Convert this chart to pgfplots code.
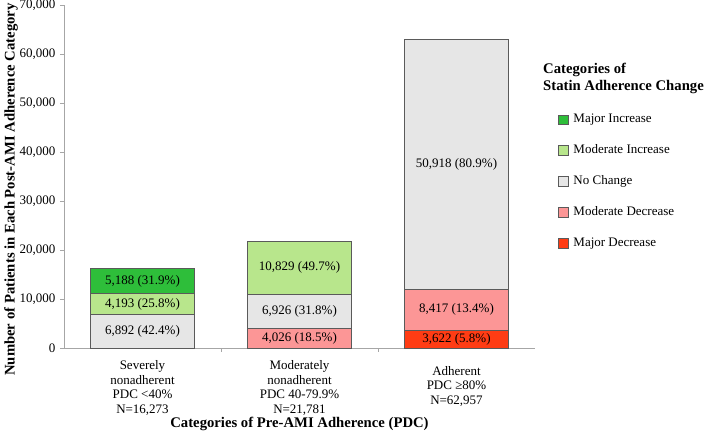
\documentclass[border=0pt]{standalone}
\usepackage{pgfplots}
\pgfplotsset{compat=1.18}
\usepackage{fontspec}
\setmainfont{Liberation Serif}
\definecolor{majinc}{RGB}{46,190,58}
\definecolor{modinc}{RGB}{184,230,140}
\definecolor{nochg}{RGB}{230,230,230}
\definecolor{moddec}{RGB}{252,150,150}
\definecolor{majdec}{RGB}{255,60,20}
\definecolor{edge}{RGB}{90,90,90}
\begin{document}
\begin{tikzpicture}
\fontsize{13}{15}\selectfont
\begin{axis}[
  at={(0,0)}, anchor=south west,
  scale only axis, width=471pt, height=343pt,
  ybar stacked, bar width=104pt,
  xmin=-0.5, xmax=2.5, ymin=0, ymax=70000,
  axis lines=left, axis line style={draw=black!35, -},
  ytick={0,10000,...,70000},
  scaled y ticks=false,
  /pgf/number format/1000 sep={,},
  /pgf/number format/assume math mode=true,
  yticklabel style={font=\fontsize{13}{15}\selectfont},
  y tick style={draw=black!35}, major tick length=4pt,
  tick align=outside,
  xtick={0,1,2}, x tick style={draw=none},
  extra x ticks={0.5,1.5}, extra x tick labels={},
  extra x tick style={x tick style={draw=black!35}},
  xticklabels={{Severely\\nonadherent\\PDC <40\%\\N=16,273},{Moderately\\nonadherent\\PDC 40-79.9\%\\N=21,781},{\mbox{}\\Adherent\\PDC ≥80\%\\N=62,957}},
  xticklabel style={align=center, font=\fontsize{13}{14.5}\selectfont, yshift=-4pt},
  xlabel={\textbf{Categories of Pre-AMI Adherence (PDC)}},
  xlabel style={font=\fontsize{14.7}{17}\selectfont, yshift=15pt},
  ylabel={\textbf{Number of Patients in Each Post-AMI Adherence Category}},
  ylabel style={font=\fontsize{14.7}{17}\selectfont, xshift=-13pt, yshift=-7pt},
  legend style={at={(1.0485,0.688)}, anchor=north west, draw=none, fill=none,
    row sep=16pt, font=\fontsize{13}{15}\selectfont, inner sep=0pt,
    cells={anchor=west}},
  legend image code/.code={\draw[#1] (0pt,-4.75pt) rectangle (9.5pt,4.75pt); \path (13pt,0pt);},
  reverse legend,
  clip=false,
]
\addplot[fill=majdec, draw=edge] coordinates {(0,0) (1,0) (2,3622)};
\addplot[fill=moddec, draw=edge] coordinates {(0,0) (1,4026) (2,8417)};
\addplot[fill=nochg, draw=edge] coordinates {(0,6892) (1,6926) (2,50918)};
\addplot[fill=modinc, draw=edge] coordinates {(0,4193) (1,10829) (2,0)};
\addplot[fill=majinc, draw=edge] coordinates {(0,5188) (1,0) (2,0)};
\legend{Major Decrease, Moderate Decrease, No Change, Moderate Increase, Major Increase}
\coordinate (a1) at (axis cs:0,3446);
\coordinate (a2) at (axis cs:0,8988);
\coordinate (a3) at (axis cs:0,13679);
\coordinate (b1) at (axis cs:1,2013);
\coordinate (b2) at (axis cs:1,7489);
\coordinate (b3) at (axis cs:1,16367);
\coordinate (c1) at (axis cs:2,1811);
\coordinate (c2) at (axis cs:2,7831);
\coordinate (c3) at (axis cs:2,37498);
\coordinate (lt) at (rel axis cs:1.017,0.831);
\end{axis}
\node at (a1) {6,892 (42.4\%)};
\node at (a2) {4,193 (25.8\%)};
\node at (a3) {5,188 (31.9\%)};
\node at (b1) {4,026 (18.5\%)};
\node at (b2) {6,926 (31.8\%)};
\node at (b3) {10,829 (49.7\%)};
\node at (c1) {3,622 (5.8\%)};
\node at (c2) {8,417 (13.4\%)};
\node at (c3) {50,918 (80.9\%)};
\node[anchor=north west, align=left, inner sep=0pt, font=\bfseries\fontsize{14.7}{17}\selectfont] at (lt) {Categories of\\Statin Adherence Change};
\pgfresetboundingbox
\path[use as bounding box] (-64pt,-90pt) rectangle (645pt,348pt);
\end{tikzpicture}
\end{document}
